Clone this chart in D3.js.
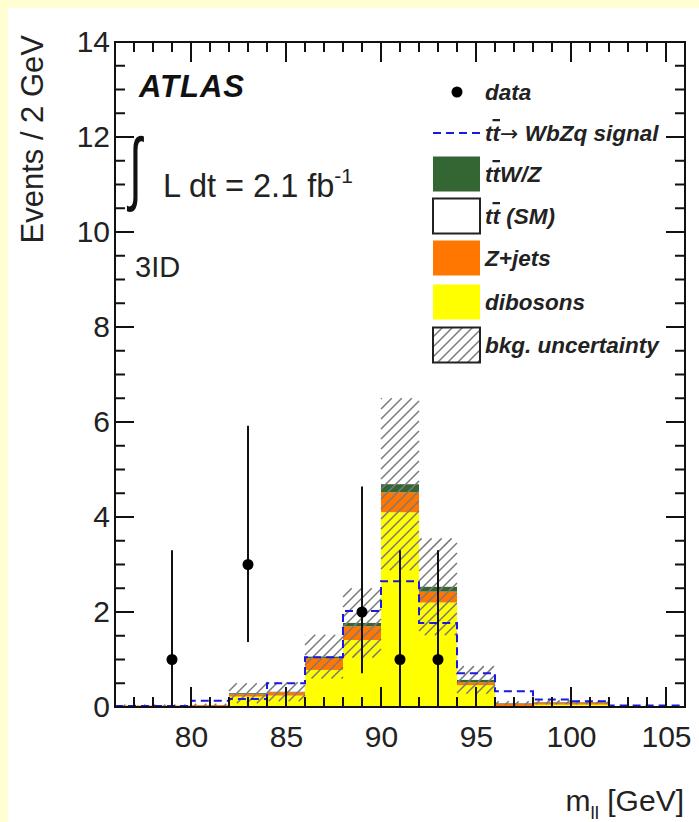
<!DOCTYPE html>
<html>
<head>
<meta charset="utf-8">
<script src="https://cdn.jsdelivr.net/npm/d3@7"></script>
<style>
  html, body { margin: 0; padding: 0; background: #ffffd2; }
  svg { display: block; }
  text { font-family: "Liberation Sans", Arial, Helvetica, sans-serif; }
</style>
</head>
<body>
<svg id="chart" width="699" height="822"></svg>
<script>
// m_ll histogram, 2 GeV bins (bin centres)
const binCenters = [77, 79, 81, 83, 85, 87, 89, 91, 93, 95, 97, 99, 101, 103, 105];
const binWidth = 2;

// stacked backgrounds, events per bin
const dibosons = [0.00, 0.00, 0.00, 0.22, 0.24, 0.78, 1.41, 4.10, 2.20, 0.46, 0.02, 0.05, 0.05, 0.00, 0.00];
const zjets    = [0.03, 0.03, 0.04, 0.05, 0.07, 0.25, 0.29, 0.42, 0.23, 0.06, 0.05, 0.04, 0.04, 0.00, 0.00];
const ttSM     = [0.00, 0.00, 0.00, 0.00, 0.00, 0.00, 0.00, 0.00, 0.00, 0.00, 0.00, 0.00, 0.00, 0.00, 0.00];
const ttWZ     = [0.00, 0.00, 0.00, 0.02, 0.01, 0.03, 0.07, 0.17, 0.10, 0.05, 0.01, 0.01, 0.01, 0.00, 0.00];
// background uncertainty (half width, around the stack total)
const bkgUnc   = [0.02, 0.02, 0.03, 0.21, 0.20, 0.46, 0.73, 1.81, 1.02, 0.29, 0.04, 0.04, 0.04, 0.00, 0.00];
// tt -> WbZq signal expectation
const signal   = [0.02, 0.02, 0.13, 0.17, 0.50, 1.05, 2.02, 2.65, 1.77, 0.71, 0.33, 0.16, 0.12, 0.03, 0.03];

// observed events with asymmetric Poisson errors
const dataX    = [79, 83, 89, 91, 93];
const dataY    = [1, 3, 2, 1, 1];
const dataUp   = [2.30, 2.92, 2.64, 2.30, 2.30];
const dataDown = [0.83, 1.63, 1.29, 0.83, 0.83];

// axes
const xDomain = [76, 106];
const yDomain = [0, 14];
const xMajor = [80, 85, 90, 95, 100, 105];
const yMajor = [0, 2, 4, 6, 8, 10, 12, 14];

const colors = { dibosons: "#ffff00", zjets: "#ff7700", ttSM: "#ffffff", ttWZ: "#336633" };
const signalColor = "#1a1adf";
const hatchColor = "#7a7a7a";

const svg = d3.select("#chart");
const W = 699, H = 822;
const frame = { left: 115, right: 685, top: 42, bottom: 707 };

svg.append("rect").attr("x", 8).attr("y", 8).attr("width", W - 8).attr("height", H - 8).attr("fill", "#ffffff");

const x = d3.scaleLinear().domain(xDomain).range([frame.left, frame.right]);
const y = d3.scaleLinear().domain(yDomain).range([frame.bottom, frame.top]);

// "/" hatching inside a rectangle, on a global lattice x + y = k * step
function hatchPath(x0, x1, y0, y1, step) {
  let d = "";
  const cMin = Math.ceil((x0 + y0) / step) * step;
  for (let c = cMin; c <= x1 + y1; c += step) {
    const xa = Math.max(x0, c - y1), xb = Math.min(x1, c - y0);
    if (xb <= xa) continue;
    d += `M${xa.toFixed(2)},${(c - xa).toFixed(2)}L${xb.toFixed(2)},${(c - xb).toFixed(2)}`;
  }
  return d;
}
const hatchStep = 10;

// ---- stacked backgrounds
const keys = ["dibosons", "zjets", "ttSM", "ttWZ"];
const rows = binCenters.map((c, i) => ({
  center: c, dibosons: dibosons[i], zjets: zjets[i], ttSM: ttSM[i], ttWZ: ttWZ[i]
}));
const stacked = d3.stack().keys(keys)(rows);

const binX0 = c => x(c - binWidth / 2);
const binX1 = c => x(c + binWidth / 2);

const fills = svg.append("g").attr("class", "stack");
stacked.forEach(layer => {
  layer.forEach(d => {
    const h = y(d[0]) - y(d[1]);
    if (h <= 0) return;
    fills.append("rect")
      .attr("x", binX0(d.data.center))
      .attr("width", binX1(d.data.center) - binX0(d.data.center))
      .attr("y", y(d[1]))
      .attr("height", h)
      .attr("fill", colors[layer.key]);
  });
});

// ---- background uncertainty band (hatched)
const totals = stacked[stacked.length - 1].map(d => d[1]);
let uncD = "";
binCenters.forEach((c, i) => {
  if (bkgUnc[i] <= 0) return;
  uncD += hatchPath(binX0(c), binX1(c), y(totals[i] + bkgUnc[i]), y(Math.max(0, totals[i] - bkgUnc[i])), hatchStep);
});
svg.append("path").attr("d", uncD).attr("fill", "none")
  .attr("stroke", hatchColor).attr("stroke-width", 1.5);

// ---- signal histogram (dashed step line)
const stepPts = binCenters.map((c, i) => [c - binWidth / 2, signal[i]]);
stepPts.push([binCenters[binCenters.length - 1] + binWidth / 2, signal[signal.length - 1]]);
svg.append("path")
  .attr("d", d3.line().x(d => x(d[0])).y(d => y(d[1])).curve(d3.curveStepAfter)(stepPts))
  .attr("fill", "none").attr("stroke", signalColor).attr("stroke-width", 2)
  .attr("stroke-dasharray", "8,5");

// ---- data
const pts = dataX.map((v, i) => ({ x: v, y: dataY[i], up: dataUp[i], dn: dataDown[i] }));
svg.append("g").selectAll("line").data(pts).join("line")
  .attr("x1", d => x(d.x)).attr("x2", d => x(d.x))
  .attr("y1", d => y(d.y + d.up)).attr("y2", d => y(d.y - d.dn))
  .attr("stroke", "#111").attr("stroke-width", 2);
svg.append("g").selectAll("circle").data(pts).join("circle")
  .attr("cx", d => x(d.x)).attr("cy", d => y(d.y)).attr("r", 5.5).attr("fill", "#000");

// tick labels
const xAxis = svg.append("g").attr("transform", `translate(0,${frame.bottom})`)
  .call(d3.axisBottom(x).tickValues(xMajor).tickSize(0).tickPadding(19));
const yAxis = svg.append("g").attr("transform", `translate(${frame.left},0)`)
  .call(d3.axisLeft(y).tickValues(yMajor).tickSize(0).tickPadding(5));
[xAxis, yAxis].forEach(g => {
  g.select(".domain").remove();
  g.selectAll(".tick line").remove();
  g.selectAll("text").attr("font-size", 30).attr("fill", "#222")
    .attr("font-family", "\"Liberation Sans\", Arial, sans-serif");
});

// axis titles
svg.append("text")
  .attr("transform", "translate(43,35) rotate(-90)")
  .attr("text-anchor", "end").attr("font-size", 31).attr("fill", "#222")
  .text("Events / 2 GeV");

const xt = svg.append("text").attr("x", 684).attr("y", 811)
  .attr("text-anchor", "end").attr("font-size", 30).attr("fill", "#222");
xt.append("tspan").text("m");
xt.append("tspan").attr("font-size", 19).attr("dy", 8).text("ll");
xt.append("tspan").attr("dy", -8).text(" [GeV]");

// labels inside the frame
svg.append("text").attr("x", 139).attr("y", 97)
  .attr("font-size", 31).attr("letter-spacing", 1).attr("font-weight", "bold")
  .attr("font-style", "italic").attr("fill", "#111")
  .text("ATLAS");

// integral sign, stretched vertically
const intScale = 1.75, intBase = 195;
svg.append("text")
  .attr("transform", `scale(1,${intScale})`)
  .attr("x", 129).attr("y", intBase / intScale)
  .attr("font-family", "\"Liberation Sans\", Arial, sans-serif")
  .attr("font-size", 46).attr("fill", "#111")
  .text("\u222B");
const lumi = svg.append("text").attr("x", 163).attr("y", 197).attr("font-size", 32.5).attr("fill", "#222");
lumi.append("tspan").text("L dt = 2.1 fb");
lumi.append("tspan").attr("font-size", 21).attr("dy", -14).text("-1");

svg.append("text").attr("x", 135).attr("y", 277).attr("font-size", 29).attr("fill", "#222").text("3ID");

// ---- legend
const leg = svg.append("g");
const legX = 433, boxW = 47, boxH = 35, textX = 485;
const legRows = [92, 133, 174, 216, 258, 302, 345];
function legText(row, parts) {
  const t = leg.append("text").attr("x", textX).attr("y", legRows[row] + 8)
    .attr("font-size", 22.5).attr("font-weight", "bold")
    .attr("font-style", "italic").attr("fill", "#222");
  parts.forEach(p => {
    const s = t.append("tspan").text(p.t);
    if (p.bar) s.style("text-decoration", "overline");
    if (p.arrow) s.attr("font-family", "\"DejaVu Sans\", sans-serif").attr("font-weight", "normal")
      .attr("font-style", "normal").attr("font-size", 22);
  });
}
leg.append("circle").attr("cx", 457).attr("cy", legRows[0]).attr("r", 5.5).attr("fill", "#000");
legText(0, [{ t: "data" }]);

leg.append("line").attr("x1", legX).attr("x2", legX + boxW).attr("y1", legRows[1]).attr("y2", legRows[1])
  .attr("stroke", signalColor).attr("stroke-width", 2).attr("stroke-dasharray", "8,5");
legText(1, [{ t: "t" }, { t: "t", bar: true }, { t: "\u2192", arrow: true }, { t: " WbZq signal" }]);

function legBox(row, fill, stroke, hatched) {
  const y0 = legRows[row] - boxH / 2;
  leg.append("rect").attr("x", legX).attr("y", y0)
    .attr("width", boxW).attr("height", boxH).attr("fill", fill);
  if (hatched) {
    leg.append("path").attr("d", hatchPath(legX, legX + boxW, y0, y0 + boxH, hatchStep))
      .attr("fill", "none").attr("stroke", hatchColor).attr("stroke-width", 1.5);
  }
  if (stroke) {
    leg.append("rect").attr("x", legX).attr("y", y0)
      .attr("width", boxW).attr("height", boxH).attr("fill", "none")
      .attr("stroke", stroke).attr("stroke-width", 2);
  }
}
legBox(2, colors.ttWZ); legText(2, [{ t: "t" }, { t: "t", bar: true }, { t: "W/Z" }]);
legBox(3, "#ffffff", "#222"); legText(3, [{ t: "t" }, { t: "t", bar: true }, { t: " (SM)" }]);
legBox(4, colors.zjets); legText(4, [{ t: "Z+jets" }]);
legBox(5, colors.dibosons); legText(5, [{ t: "dibosons" }]);
legBox(6, "#ffffff", "#222", true); legText(6, [{ t: "bkg. uncertainty" }]);

// ---- ticks on all four sides, pointing inward, and the frame (drawn last)
const xMinor = d3.range(xDomain[0] + 1, xDomain[1], 1).filter(v => !xMajor.includes(v));
const yMinor = d3.range(0.5, yDomain[1], 0.5).filter(v => !yMajor.includes(v));
let tickD = "";
[[xMajor, 20], [xMinor, 10]].forEach(([vals, len]) => vals.forEach(v => {
  tickD += `M${x(v)},${frame.bottom}V${frame.bottom - len}`;
  tickD += `M${x(v)},${frame.top}V${frame.top + len}`;
}));
[[yMajor, 19], [yMinor, 10]].forEach(([vals, len]) => vals.forEach(v => {
  tickD += `M${frame.left},${y(v)}H${frame.left + len}`;
  tickD += `M${frame.right},${y(v)}H${frame.right - len}`;
}));
svg.append("path").attr("d", tickD).attr("fill", "none").attr("stroke", "#111").attr("stroke-width", 2);

svg.append("rect").attr("x", frame.left).attr("y", frame.top)
  .attr("width", frame.right - frame.left).attr("height", frame.bottom - frame.top)
  .attr("fill", "none").attr("stroke", "#111").attr("stroke-width", 2);
</script>
</body>
</html>
